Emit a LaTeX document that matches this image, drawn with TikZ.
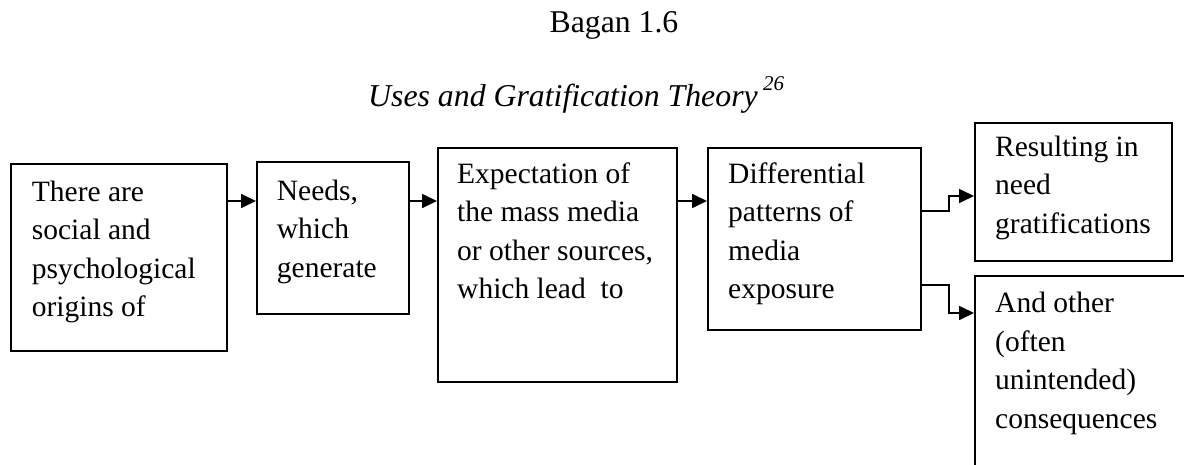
\documentclass[tikz,border=0pt]{standalone}
\usepackage{fontspec}
\setmainfont{Liberation Serif}
\usetikzlibrary{arrows.meta,calc}
\tikzset{
  box/.style={draw=black, line width=1.8pt, fill=white, inner sep=0pt, anchor=north west},
  boxtext/.style={anchor=north west, inner sep=0pt, align=left, font=\fontsize{29.5}{38.5}\selectfont},
  arr/.style={draw=black, line width=1.7pt, -{Triangle[length=15pt,width=14pt]}},
}
\begin{document}
\begin{tikzpicture}[x=1pt,y=-1pt]
\path[fill=white] (0,0) rectangle (1184,464);
\useasboundingbox (0,0) rectangle (1184,464);
\begin{scope}
\clip (0,0) rectangle (1184,464);
% titles
\node[anchor=base, inner sep=0pt, font=\fontsize{31.7}{36}\selectfont] (title) at (614,32) {Bagan 1.6};
\node[anchor=base west, inner sep=0pt, font=\fontsize{31.8}{36}\selectfont\itshape] (sub) at (368,106) {Uses and Gratification Theory};
\node[anchor=base west, inner sep=0pt, font=\fontsize{21}{24}\selectfont\itshape] (ref) at (763,90) {26};
% boxes
\node[box, minimum width=216pt, minimum height=187pt] (b1) at (10,163) {};
\node[box, minimum width=152pt, minimum height=152pt] (b2) at (256,161) {};
\node[box, minimum width=239pt, minimum height=234pt] (b3) at (437,147) {};
\node[box, minimum width=213pt, minimum height=182pt] (b4) at (707,147) {};
\node[box, minimum width=197pt, minimum height=138pt] (b5) at (974,122) {};
\node[box, minimum width=240pt, minimum height=240pt] (b6) at (974,275) {};
% texts
\node[boxtext] (t1) at (31.7,174) {\strut There are\\social and\\psychological\\origins of};
\node[boxtext] (t2) at (276.7,173) {\strut Needs,\\which\\generate};
\node[boxtext] (t3) at (457,156) {\strut Expectation of\\the mass media\\or other sources,\\which lead\ \ to};
\node[boxtext] (t4) at (728,156) {\strut Differential\\patterns of\\media\\exposure};
\node[boxtext] (t5) at (995,129) {\strut Resulting in\\need\\gratifications};
\node[boxtext] (t6) at (995,285.7) {\strut And other\\(often\\unintended)\\consequences};
% connectors
\draw[arr] ($(b1.north east)+(0,38)$) coordinate (a1) -- (a1 -| b2.west);
\draw[arr] ($(b2.north east)+(0,40)$) coordinate (a2) -- (a2 -| b3.west);
\draw[arr] ($(b3.north east)+(0,54)$) coordinate (a3) -- (a3 -| b4.west);
\coordinate (s1) at ($(b4.north east)+(0,64)$);
\coordinate (e1) at ($(b5.north west)+(0,74)$);
\coordinate (k1) at ($(s1)+(27,0)$);
\draw[arr] (s1) -- (k1) |- (e1);
\coordinate (s2) at ($(b4.north east)+(0,138)$);
\coordinate (e2) at ($(b6.north west)+(0,38)$);
\coordinate (k2) at ($(s2)+(27,0)$);
\draw[arr] (s2) -- (k2) |- (e2);
\end{scope}
\end{tikzpicture}
\end{document}
